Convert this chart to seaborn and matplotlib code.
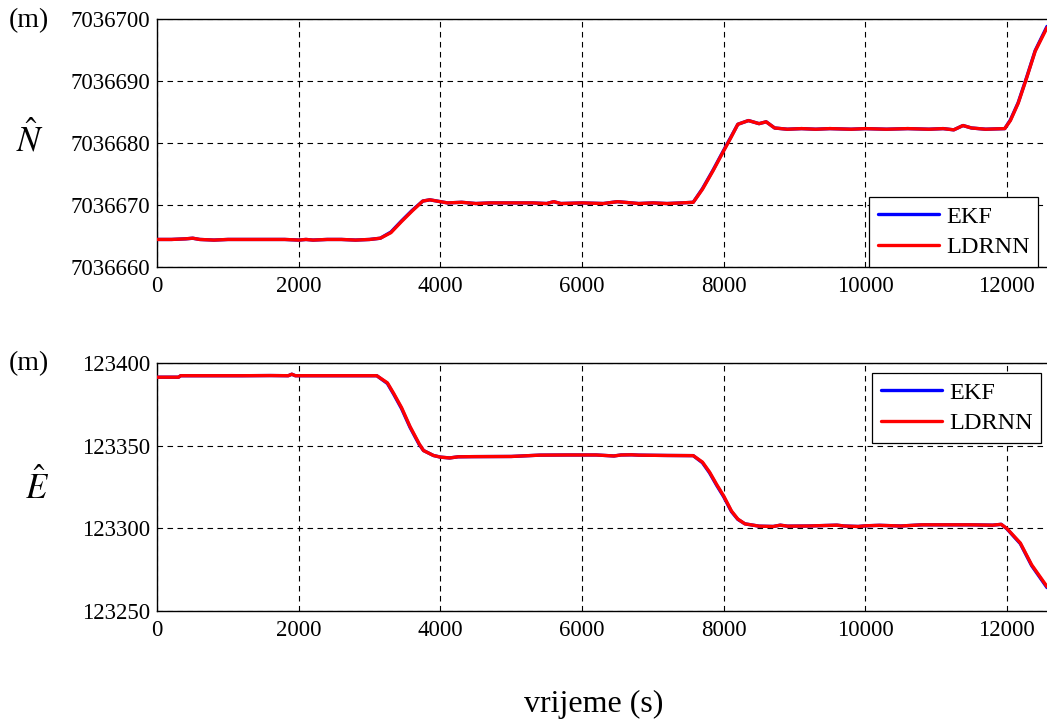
import numpy as np
import pandas as pd
import matplotlib
matplotlib.use("Agg")
import matplotlib.pyplot as plt
import seaborn as sns

# ---------------- data ----------------
t_N = [0, 200, 400, 500, 600, 800, 1000, 1200, 1400, 1600, 1800, 2000, 2100, 2200,
       2400, 2600, 2800, 3000, 3150, 3300, 3450, 3600, 3750, 3850, 3950, 4100, 4300,
       4500, 4700, 5000, 5300, 5500, 5600, 5700, 6000, 6300, 6500, 6800, 7000, 7200,
       7400, 7570, 7700, 7850, 8000, 8100, 8200, 8350, 8500, 8600, 8720, 8900, 9100,
       9300, 9500, 9800, 10000, 10300, 10600, 10900, 11100, 11250, 11380, 11500, 11700,
       11970, 12050, 12160, 12280, 12400, 12567]
N_ldrnn = [7036664.4, 7036664.4, 7036664.5, 7036664.6, 7036664.4, 7036664.3, 7036664.4,
           7036664.4, 7036664.4, 7036664.4, 7036664.4, 7036664.3, 7036664.4, 7036664.3,
           7036664.4, 7036664.4, 7036664.3, 7036664.4, 7036664.6, 7036665.5, 7036667.3,
           7036669.0, 7036670.6, 7036670.8, 7036670.6, 7036670.3, 7036670.4, 7036670.2,
           7036670.3, 7036670.3, 7036670.3, 7036670.2, 7036670.5, 7036670.2, 7036670.3,
           7036670.2, 7036670.5, 7036670.2, 7036670.3, 7036670.2, 7036670.3, 7036670.4,
           7036672.5, 7036675.5, 7036678.7, 7036680.8, 7036683.0, 7036683.6, 7036683.1,
           7036683.4, 7036682.4, 7036682.2, 7036682.3, 7036682.2, 7036682.3, 7036682.2,
           7036682.3, 7036682.2, 7036682.3, 7036682.2, 7036682.3, 7036682.1, 7036682.8,
           7036682.4, 7036682.2, 7036682.3, 7036683.6, 7036686.4, 7036690.5, 7036694.8,
           7036698.6]
N_ekf = [7036664.4, 7036664.4, 7036664.5, 7036664.6, 7036664.4, 7036664.3, 7036664.4,
         7036664.4, 7036664.4, 7036664.4, 7036664.4, 7036664.3, 7036664.4, 7036664.3,
         7036664.4, 7036664.4, 7036664.3, 7036664.4, 7036664.6, 7036665.6, 7036667.4,
         7036669.1, 7036670.6, 7036670.8, 7036670.6, 7036670.3, 7036670.4, 7036670.2,
         7036670.3, 7036670.3, 7036670.3, 7036670.2, 7036670.5, 7036670.2, 7036670.3,
         7036670.2, 7036670.5, 7036670.2, 7036670.3, 7036670.2, 7036670.3, 7036670.4,
         7036672.6, 7036675.6, 7036678.8, 7036680.9, 7036683.0, 7036683.6, 7036683.1,
         7036683.4, 7036682.4, 7036682.2, 7036682.3, 7036682.2, 7036682.3, 7036682.2,
         7036682.3, 7036682.2, 7036682.3, 7036682.2, 7036682.3, 7036682.1, 7036682.8,
         7036682.4, 7036682.2, 7036682.3, 7036683.7, 7036686.5, 7036690.6, 7036694.9,
         7036698.8]

t_E = [0, 300, 330, 800, 1200, 1600, 1850, 1900, 1950, 2400, 2800, 3100, 3250, 3340,
       3450, 3570, 3700, 3760, 3900, 4000, 4130, 4250, 4460, 5000, 5400, 5800, 6200,
       6450, 6550, 6700, 6800, 7200, 7570, 7700, 7800, 7900, 8000, 8110, 8200, 8300,
       8500, 8700, 8800, 8900, 9200, 9600, 9700, 9900, 10000, 10200, 10500, 10800,
       11200, 11500, 11800, 11920, 12000, 12190, 12350, 12567]
E_ldrnn = [123391.4, 123391.4, 123392.3, 123392.3, 123392.3, 123392.4, 123392.3, 123393.2,
           123392.3, 123392.3, 123392.3, 123392.3, 123388.0, 123381.5, 123373.0, 123361.5,
           123351.0, 123347.0, 123344.0, 123343.0, 123342.5, 123343.2, 123343.3, 123343.4,
           123344.2, 123344.3, 123344.3, 123343.7, 123344.3, 123344.4, 123344.2, 123344.0,
           123343.9, 123340.0, 123334.0, 123326.5, 123319.5, 123310.4, 123305.5, 123302.6,
           123301.2, 123301.0, 123301.8, 123301.2, 123301.3, 123301.8, 123301.3, 123301.0,
           123301.4, 123301.7, 123301.3, 123302.0, 123302.0, 123302.0, 123301.8, 123302.3,
           123299.8, 123291.0, 123277.8, 123264.6]
E_ekf = [123391.4, 123391.4, 123392.3, 123392.3, 123392.3, 123392.4, 123392.3, 123393.2,
         123392.3, 123392.3, 123392.3, 123392.3, 123387.6, 123381.0, 123372.4, 123361.0,
         123350.6, 123347.0, 123344.0, 123343.0, 123342.5, 123343.2, 123343.3, 123343.4,
         123344.2, 123344.3, 123344.3, 123343.7, 123344.3, 123344.4, 123344.2, 123344.0,
         123343.9, 123339.6, 123333.5, 123326.0, 123319.0, 123310.0, 123305.3, 123302.6,
         123301.2, 123301.0, 123301.8, 123301.2, 123301.3, 123301.8, 123301.3, 123301.0,
         123301.4, 123301.7, 123301.3, 123302.0, 123302.0, 123302.0, 123301.8, 123302.3,
         123299.6, 123290.6, 123277.3, 123264.0]

series_names = ["EKF", "LDRNN"]
series_colors = ["#0000ff", "#ff0000"]
x_ticks = [0, 2000, 4000, 6000, 8000, 10000, 12000]
N_ticks = [7036660, 7036670, 7036680, 7036690, 7036700]
E_ticks = [123250, 123300, 123350, 123400]

# ---------------- style ----------------
sns.set_style("white")
plt.rcParams["font.family"] = ["Liberation Serif", "DejaVu Serif"]
plt.rcParams["mathtext.fontset"] = "stix"
plt.rcParams["text.color"] = "black"
plt.rcParams["axes.labelcolor"] = "black"

W, H = 1047, 722
fig = plt.figure(figsize=(W / 100, H / 100), dpi=100)

def fx(px):
    return px / W

def fy(py):
    return 1 - py / H

ax1 = fig.add_axes([fx(157.3), fy(266.7), fx(W - 157.3), fy(19) - fy(266.7)])
ax2 = fig.add_axes([fx(157.3), fy(610.7), fx(W - 157.3), fy(363) - fy(610.7)])

dfN = pd.DataFrame({
    "t": t_N * 2,
    "v": N_ekf + N_ldrnn,
    "s": [series_names[0]] * len(t_N) + [series_names[1]] * len(t_N),
})
dfE = pd.DataFrame({
    "t": t_E * 2,
    "v": E_ekf + E_ldrnn,
    "s": [series_names[0]] * len(t_E) + [series_names[1]] * len(t_E),
})

pal = dict(zip(series_names, series_colors))
for ax, df in [(ax1, dfN), (ax2, dfE)]:
    sns.lineplot(data=df, x="t", y="v", hue="s", palette=pal, lw=2.4, ax=ax,
                 estimator=None, sort=False, legend=True, zorder=3)

grid_kw = dict(color="black", lw=0.8, linestyle=(0, (5, 4)))
for ax, ticks, lim in [(ax1, N_ticks, (7036660, 7036700)), (ax2, E_ticks, (123250, 123400))]:
    ax.set_xlim(0, 12567)
    ax.set_ylim(*lim)
    ax.set_xticks(x_ticks)
    ax.set_yticks(ticks)
    ax.set_xticklabels([str(v) for v in x_ticks])
    ax.set_yticklabels([str(v) for v in ticks])
    ax.grid(True, **grid_kw)
    ax.tick_params(direction="in", length=4, width=0.8, labelsize=16.5, pad=5,
                   colors="black")
    ax.tick_params(axis="x", pad=7)
    for sp in ["left", "bottom", "top"]:
        ax.spines[sp].set_color("black")
        ax.spines[sp].set_linewidth(1.0)
    ax.spines["right"].set_visible(False)
    ax.set_xlabel("")
    ax.set_ylabel("")

leg1 = ax1.legend(loc="lower right", bbox_to_anchor=(0.9899, 0.0), borderaxespad=0,
                  fontsize=17.5, frameon=True, fancybox=False, handlelength=2.5,
                  borderpad=0.35, labelspacing=0.35, handletextpad=0.3)
leg2 = ax2.legend(loc="upper right", bbox_to_anchor=(0.9933, 0.9596), borderaxespad=0,
                  fontsize=17.5, frameon=True, fancybox=False, handlelength=2.5,
                  borderpad=0.35, labelspacing=0.35, handletextpad=0.3)
for leg in (leg1, leg2):
    leg.get_frame().set_edgecolor("black")
    leg.get_frame().set_linewidth(0.9)
    leg.get_frame().set_alpha(1)
    for h in leg.get_lines():
        h.set_linewidth(2.4)
    for txt in leg.get_texts():
        txt.set_color("black")

fig.text(fx(29), fy(21), "(m)", fontsize=20, ha="center", va="center", color="black")
fig.text(fx(29), fy(364), "(m)", fontsize=20, ha="center", va="center", color="black")
fig.text(fx(30), fy(140), r"$\hat{N}$", fontsize=25, ha="center", va="center", color="black")
fig.text(fx(37), fy(488), r"$\hat{E}$", fontsize=25, ha="center", va="center", color="black")
fig.text(fx(594), fy(704), "vrijeme (s)", fontsize=23, ha="center", va="center", color="black")

fig.savefig("out.png", dpi=100)
